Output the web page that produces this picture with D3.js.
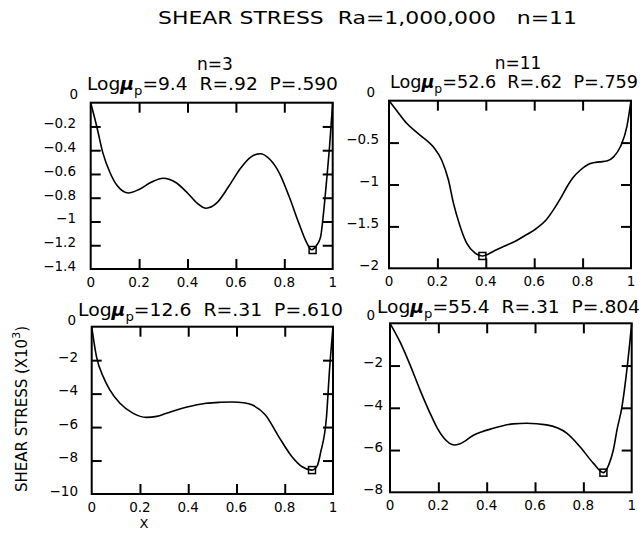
<!DOCTYPE html>
<html><head><meta charset="utf-8">
<script src="https://cdn.jsdelivr.net/npm/d3@7"></script>
<style>
body{margin:0;background:#fff}
text{font-family:"DejaVu Sans",sans-serif;fill:#000;white-space:pre}
</style>
</head><body>
<svg id="c" width="644" height="535"></svg>
<script>
// ---------------- DATA ----------------
const titleText = "SHEAR STRESS  Ra=1,000,000   n=11";
const columnHeadings = ["n=3", "n=11"];
const logMuValues = ["9.4", "52.6", "12.6", "55.4"];
const rValues = [".92", ".62", ".31", ".31"];
const pValues = [".590", ".759", ".610", ".804"];
const yAxisTitle = "SHEAR STRESS (X10";
const yAxisTitleSup = "3";
const xAxisTitle = "X";

const xTickValues = [0, 0.2, 0.4, 0.6, 0.8, 1];
const xTickLabels = ["0", "0.2", "0.4", "0.6", "0.8", "1"];

const yTicks1 = [0, -0.2, -0.4, -0.6, -0.8, -1, -1.2, -1.4];
const yLabels1 = ["0", "\u22120.2", "\u22120.4", "\u22120.6", "\u22120.8", "\u22121", "\u22121.2", "\u22121.4"];
const yTicks2 = [0, -0.5, -1, -1.5, -2];
const yLabels2 = ["0", "\u22120.5", "\u22121", "\u22121.5", "\u22122"];
const yTicks3 = [0, -2, -4, -6, -8, -10];
const yLabels3 = ["0", "\u22122", "\u22124", "\u22126", "\u22128", "\u221210"];
const yTicks4 = [0, -2, -4, -6, -8];
const yLabels4 = ["0", "\u22122", "\u22124", "\u22126", "\u22128"];

// n=3, top (Log mu = 9.4)
const x1 = [0, .025, .05, .08, .11, .156, .2, .25, .3, .35, .4, .44, .477, .52, .57, .62, .66, .7, .74, .78, .82, .86, .89, .913, .935, .95, .962, .975, .987, 1];
const y1 = [0, -.2, -.42, -.59, -.7, -.76, -.73, -.67, -.636, -.67, -.76, -.846, -.888, -.846, -.706, -.55, -.46, -.43, -.476, -.594, -.79, -1.014, -1.168, -1.238, -1.196, -1.13, -.93, -.65, -.37, 0];
// n=11, top (Log mu = 52.6)
const x2 = [0, .04, .073, .128, .183, .218, .246, .266, .294, .321, .356, .386, .43, .473, .52, .556, .611, .65, .68, .71, .735, .76, .79, .832, .87, .9, .928, .956, .983, 1];
const y2 = [0, -.15, -.27, -.41, -.55, -.71, -.95, -1.22, -1.5, -1.7, -1.82, -1.853, -1.8, -1.74, -1.68, -1.62, -1.52, -1.42, -1.3, -1.16, -1.03, -.92, -.83, -.75, -.73, -.72, -.67, -.55, -.31, 0];
// n=3, bottom (Log mu = 12.6)
const x3 = [0, .02, .048, .075, .117, .172, .226, .27, .309, .391, .474, .53, .583, .63, .666, .72, .775, .83, .872, .913, .935, .949, .973, .986, 1];
const y3 = [0, -1.8, -3.0, -3.78, -4.58, -5.18, -5.42, -5.36, -5.18, -4.82, -4.58, -4.52, -4.5, -4.55, -4.68, -5.28, -6.57, -7.77, -8.37, -8.57, -8.3, -7.5, -5.4, -2.5, 0];
// n=11, bottom (Log mu = 55.4)
const x4 = [0, .041, .083, .124, .166, .195, .222, .245, .265, .29, .345, .428, .51, .566, .648, .731, .786, .841, .883, .905, .924, .94, .959, .982, 1];
const y4 = [0, -.87, -1.97, -3.15, -4.26, -4.95, -5.42, -5.67, -5.76, -5.7, -5.3, -4.97, -4.76, -4.73, -4.81, -5.2, -5.84, -6.62, -7.07, -6.7, -6.0, -5.0, -4.0, -2.0, 0];

// minimum markers
const markX = [0.917, 0.386, 0.913, 0.883];
const markY = [-1.24, -1.853, -8.57, -7.07];

// ---------------- LAYOUT ----------------
const panels = [
  {xs: x1, ys: y1, yt: yTicks1, yl: yLabels1, l: 90.7, r: 332.7, t: 102.7, b: 269, labR: 76, zeroR: 78, zeroOff: -6, logX0: 87, logX1: 338, logBase: 90},
  {xs: x2, ys: y2, yt: yTicks2, yl: yLabels2, l: 389, r: 631, t: 100.7, b: 268.3, labR: 379, zeroR: 375, zeroOff: -6, logX0: 390, logX1: 638, logBase: 88},
  {xs: x3, ys: y3, yt: yTicks3, yl: yLabels3, l: 91.7, r: 333, t: 326.7, b: 494, labR: 78, zeroR: 76, zeroOff: -4, logX0: 78, logX1: 343, logBase: 316},
  {xs: x4, ys: y4, yt: yTicks4, yl: yLabels4, l: 390, r: 631.7, t: 323.3, b: 492.3, labR: 383, zeroR: 375, zeroOff: -5, logX0: 377, logX1: 640, logBase: 313}
];

const svg = d3.select("#c");

// title
svg.append("text").attr("x", 158).attr("y", 24)
  .attr("font-size", 18).attr("textLength", 419).attr("lengthAdjust", "spacingAndGlyphs")
  .text(titleText);

// column headings
svg.append("text").attr("x", 215).attr("y", 70).attr("text-anchor", "middle").attr("font-size", 17).text(columnHeadings[0]);
svg.append("text").attr("x", 518).attr("y", 69).attr("text-anchor", "middle").attr("font-size", 17).text(columnHeadings[1]);

panels.forEach((p, i) => {
  const x = d3.scaleLinear().domain([0, 1]).range([p.l, p.r]);
  const y = d3.scaleLinear().domain([d3.min(p.yt), 0]).range([p.b, p.t]);
  const g = svg.append("g");

  // inward ticks on all four sides
  const tickLen = 10;
  const inner = xTickValues.slice(1, -1);
  const innerY = p.yt.slice(1, -1);
  g.append("g").attr("transform", `translate(0,${p.b})`)
    .call(d3.axisBottom(x).tickValues(inner).tickSize(-tickLen).tickSizeOuter(0).tickFormat(""));
  g.append("g").attr("transform", `translate(0,${p.t})`)
    .call(d3.axisTop(x).tickValues(inner).tickSize(-tickLen).tickSizeOuter(0).tickFormat(""));
  g.append("g").attr("transform", `translate(${p.l},0)`)
    .call(d3.axisLeft(y).tickValues(innerY).tickSize(-tickLen).tickSizeOuter(0).tickFormat(""));
  g.append("g").attr("transform", `translate(${p.r},0)`)
    .call(d3.axisRight(y).tickValues(innerY).tickSize(-tickLen).tickSizeOuter(0).tickFormat(""));
  g.selectAll(".tick line").attr("stroke", "#000").attr("stroke-width", 2);
  g.selectAll(".domain").remove();

  // frame
  g.append("rect").attr("x", p.l).attr("y", p.t).attr("width", p.r - p.l).attr("height", p.b - p.t)
    .attr("fill", "none").attr("stroke", "#000").attr("stroke-width", 2);

  // x tick labels
  g.selectAll(".xl").data(xTickValues).enter().append("text")
    .attr("x", d => x(d)).attr("y", p.b + 13).attr("dy", "0.36em")
    .attr("text-anchor", "middle").attr("font-size", 13.5)
    .text((d, k) => xTickLabels[k]);

  // y tick labels
  g.selectAll(".yl").data(p.yt).enter().append("text")
    .attr("x", d => d === 0 ? p.zeroR : p.labR)
    .attr("y", d => y(d) - 3 + (d === 0 ? p.zeroOff : 0)).attr("dy", "0.36em")
    .attr("text-anchor", "end").attr("font-size", 13.5)
    .text((d, k) => p.yl[k]);

  // curve
  const pts = p.xs.map((v, k) => [v, p.ys[k]]);
  g.append("path").datum(pts)
    .attr("fill", "none").attr("stroke", "#000").attr("stroke-width", 1.6)
    .attr("d", d3.line().x(d => x(d[0])).y(d => y(d[1])).curve(d3.curveMonotoneX));

  // minimum marker
  g.append("rect").attr("x", x(markX[i]) - 3.5).attr("y", y(markY[i]) - 3.5)
    .attr("width", 7).attr("height", 7).attr("fill", "none").attr("stroke", "#000").attr("stroke-width", 1.5);

  // Log mu annotation
  const t = svg.append("text").attr("x", p.logX0).attr("y", p.logBase).attr("font-size", 17)
    .attr("textLength", p.logX1 - p.logX0).attr("lengthAdjust", "spacingAndGlyphs");
  t.append("tspan").text("Log");
  t.append("tspan").attr("font-style", "italic").attr("font-weight", "bold").text("\u03bc");
  t.append("tspan").attr("font-size", 12).attr("dy", 5).text("p");
  t.append("tspan").attr("dy", -5).text(`=${logMuValues[i]}  R=${rValues[i]}  P=${pValues[i]}`);
});

// y axis title
svg.append("text").attr("transform", "translate(27,409) rotate(-90)")
  .attr("text-anchor", "middle").attr("font-size", 15)
  .attr("textLength", 166).attr("lengthAdjust", "spacingAndGlyphs")
  .call(t => {
    t.append("tspan").text(yAxisTitle);
    t.append("tspan").attr("font-size", 11).attr("dy", -7).text(yAxisTitleSup);
    t.append("tspan").attr("dy", 7).text(")");
  });

// x axis title
svg.append("text").attr("x", 144).attr("y", 523).attr("dy", "0.36em")
  .attr("text-anchor", "middle").attr("font-size", 13).text(xAxisTitle);
</script>
</body></html>
